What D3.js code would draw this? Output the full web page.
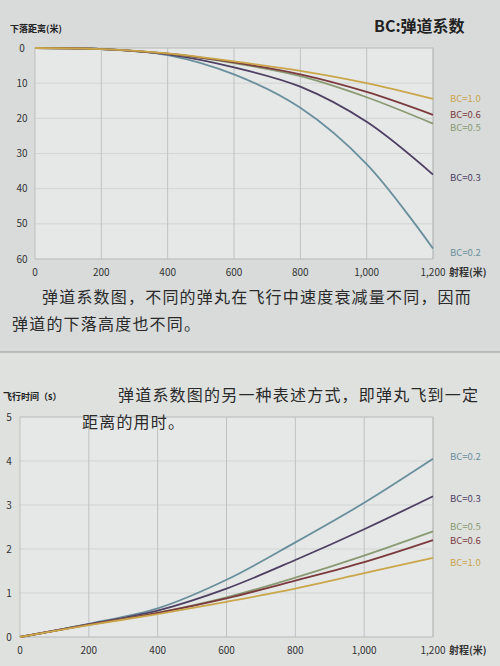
<!DOCTYPE html>
<html><head><meta charset="utf-8">
<script src="https://cdn.jsdelivr.net/npm/d3@7"></script>
<style>body{margin:0;background:#d9dcdb;} text{font-family:"Noto Sans CJK SC","Noto Sans",sans-serif;}</style>
</head><body>
<svg width="500" height="666"></svg>
<script>
// ranges (m) shared by both charts
const ranges = [0, 200, 400, 600, 800, 1000, 1200];
const bcNames = ["BC=0.2", "BC=0.3", "BC=0.5", "BC=0.6", "BC=1.0"];
const bcColors = ["#6a8f9c", "#4e3f63", "#8a9a72", "#7a3a3e", "#c9a64a"];
// drop (m)
const drop02 = [0, 0.3, 2, 7.5, 17, 33, 57];
const drop03 = [0, 0.3, 1.8, 5.5, 11, 21, 36];
const drop05 = [0, 0.3, 1.6, 4.3, 8, 14, 21.5];
const drop06 = [0, 0.3, 1.6, 4.1, 7.5, 12.5, 19];
const drop10 = [0, 0.3, 1.5, 3.8, 6.5, 10, 14.5];
// flight time (s)
const time02 = [0, 0.3, 0.65, 1.3, 2.15, 3.05, 4.05];
const time03 = [0, 0.29, 0.6, 1.1, 1.75, 2.45, 3.2];
const time05 = [0, 0.28, 0.55, 0.9, 1.35, 1.85, 2.4];
const time06 = [0, 0.28, 0.55, 0.88, 1.28, 1.7, 2.2];
const time10 = [0, 0.27, 0.52, 0.8, 1.1, 1.45, 1.8];
const xTicks = [0, 200, 400, 600, 800, 1000, 1200];
const dropTicks = [0, 10, 20, 30, 40, 50, 60];
const timeTicks = [0, 1, 2, 3, 4, 5];

const svg = d3.select("svg");
svg.append("rect").attr("width", 500).attr("height", 666).attr("fill", "#d8dbda");
svg.append("rect").attr("y", 352).attr("width", 500).attr("height", 314).attr("fill", "#dfe1df");
svg.append("line").attr("x1", 0).attr("x2", 500).attr("y1", 352).attr("y2", 352).attr("stroke", "#999");

const fmt = d3.format(",");

function chart(opt) {
  const x = d3.scaleLinear().domain([0, 1200]).range([opt.x0, 433]);
  const y = d3.scaleLinear().domain(opt.yDomain).range([opt.yTop, opt.yBot]);
  const g = svg.append("g");
  g.append("rect").attr("x", opt.x0).attr("y", opt.yTop).attr("width", 433 - opt.x0)
    .attr("height", opt.yBot - opt.yTop).attr("fill", "#e6e8e7").attr("stroke", "#aaa").attr("stroke-width", 0.6);
  g.selectAll(".vg").data(xTicks.slice(1)).enter().append("line")
    .attr("x1", d => x(d)).attr("x2", d => x(d)).attr("y1", opt.yTop).attr("y2", opt.yBot)
    .attr("stroke", "#b3b8b8").attr("stroke-width", 0.8);
  g.selectAll(".hg").data(opt.yTicks).enter().append("line")
    .attr("x1", opt.x0).attr("x2", 433).attr("y1", d => y(d)).attr("y2", d => y(d))
    .attr("stroke", "#c4c8c8").attr("stroke-width", 0.6);
  g.selectAll(".xl").data(xTicks).enter().append("text")
    .attr("x", d => x(d)).attr("y", opt.yBot + 17).attr("text-anchor", "middle")
    .attr("font-size", 10).attr("fill", "#333").text(d => fmt(d));
  g.append("text").attr("x", 449).attr("y", opt.yBot + 17).attr("font-size", 10).attr("font-weight", "bold")
    .attr("fill", "#333").text("射程(米)");
  g.selectAll(".yl").data(opt.yTicks).enter().append("text")
    .attr("x", opt.yLabX).attr("y", d => y(d) + 3.5).attr("text-anchor", "middle")
    .attr("font-size", 10).attr("fill", "#333").text(d => d);
  const line = d3.line().x((d, i) => x(ranges[i])).y(d => y(d)).curve(d3.curveCatmullRom);
  opt.series.forEach((s, i) => {
    g.append("path").attr("d", line(s)).attr("fill", "none")
      .attr("stroke", bcColors[i]).attr("stroke-width", 1.8);
  });
  opt.labelY.forEach((ly, i) => {
    g.append("text").attr("x", 450).attr("y", ly).attr("font-size", 9.5)
      .attr("fill", bcColors[i]).text(bcNames[i]);
  });
}

chart({x0: 35, yTop: 48, yBot: 259, yDomain: [0, 60], yTicks: dropTicks, yLabX: 22,
  series: [drop02, drop03, drop05, drop06, drop10], labelY: [256, 181, 131, 118, 102]});
chart({x0: 20, yTop: 417, yBot: 637, yDomain: [5, 0], yTicks: timeTicks, yLabX: 9,
  series: [time02, time03, time05, time06, time10], labelY: [460, 502, 530, 544, 566]});

svg.append("text").attr("x", 10).attr("y", 32).attr("font-size", 9).attr("font-weight", "bold").attr("fill", "#222").text("下落距离(米)");
svg.append("text").attr("x", 374).attr("y", 32).attr("font-size", 16).attr("font-weight", "bold").attr("fill", "#222").text("BC:弹道系数");
svg.append("text").attr("x", 3).attr("y", 400).attr("font-size", 9).attr("font-weight", "bold").attr("fill", "#222").text("飞行时间（s）");
const para = [[42, 303, "弹道系数图，不同的弹丸在飞行中速度衰减量不同，因而"], [12, 330, "弹道的下落高度也不同。"],
  [118, 401, "弹道系数图的另一种表述方式，即弹丸飞到一定"], [82, 428, "距离的用时。"]];
svg.selectAll(".p").data(para).enter().append("text").attr("x", d => d[0]).attr("y", d => d[1])
  .attr("font-size", 16).attr("letter-spacing", 1.2).attr("fill", "#2a2a2a").text(d => d[2]);
</script>
</body></html>
